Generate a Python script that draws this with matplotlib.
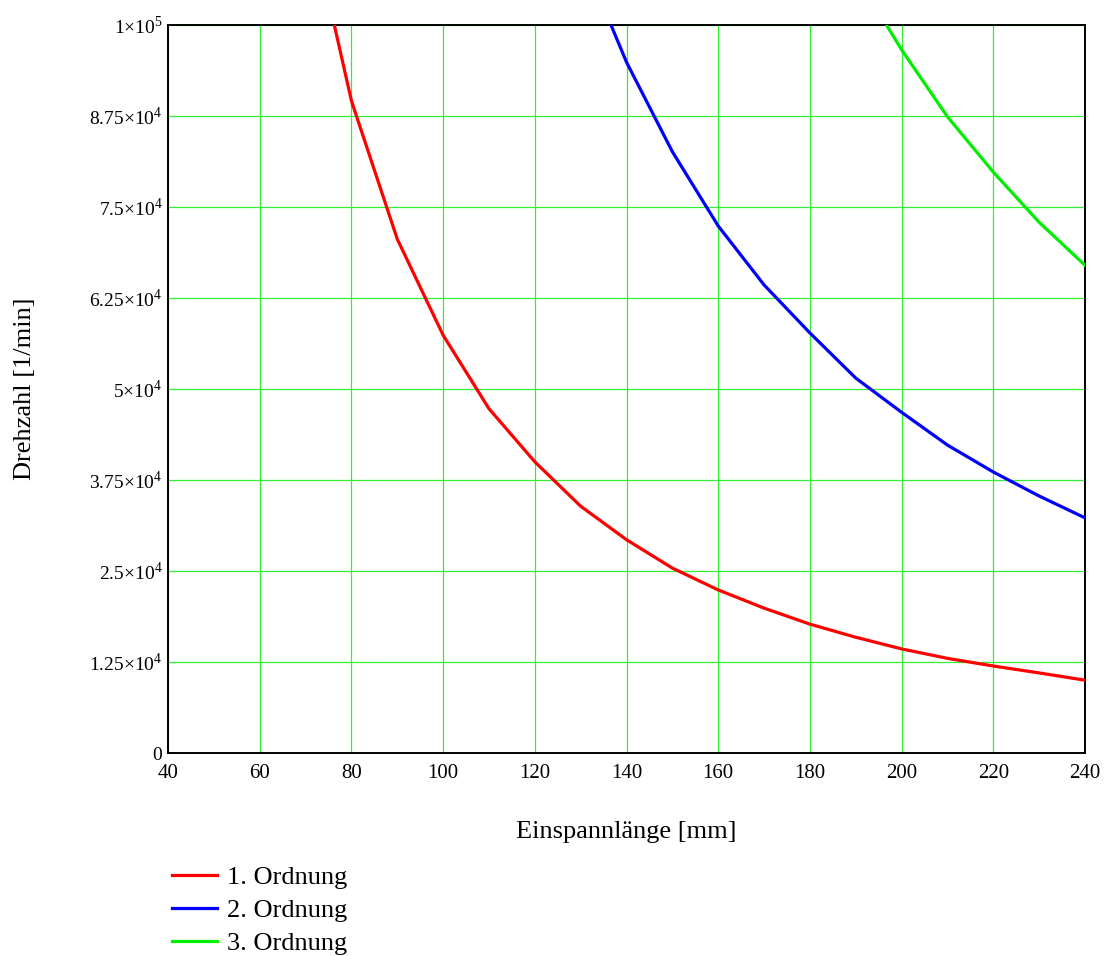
import matplotlib
matplotlib.use("Agg")
import matplotlib.pyplot as plt

plt.rcParams['font.family'] = ['Liberation Serif', 'DejaVu Serif']
plt.rcParams['mathtext.fontset'] = 'custom'
plt.rcParams['mathtext.rm'] = 'Liberation Serif'

# Einspannlänge [mm] und Drehzahl [1/min]
laenge_1 = [70, 80, 90, 100, 110, 120, 130, 140, 150, 160, 170, 180, 190, 200, 210, 220, 230, 240]
drehzahl_1 = [117500, 89600, 70600, 57400, 47300, 40000, 33900, 29300, 25400, 22400,
              19900, 17700, 15900, 14300, 13000, 11950, 11000, 10000]

laenge_2 = [130, 140, 150, 160, 170, 180, 190, 200, 210, 220, 230, 240]
drehzahl_2 = [110000, 94900, 82600, 72400, 64300, 57700, 51500, 46800, 42300, 38600, 35300, 32300]

laenge_3 = [190, 200, 210, 220, 230, 240]
drehzahl_3 = [106900, 96600, 87400, 79800, 72900, 67000]

x_ticks = [40, 60, 80, 100, 120, 140, 160, 180, 200, 220, 240]
y_ticks = [0, 12500, 25000, 37500, 50000, 62500, 75000, 87500, 100000]
y_labels = ['0', r'$1.25{\times}10^{4}$', r'$2.5{\times}10^{4}$', r'$3.75{\times}10^{4}$',
            r'$5{\times}10^{4}$', r'$6.25{\times}10^{4}$', r'$7.5{\times}10^{4}$',
            r'$8.75{\times}10^{4}$', r'$1{\times}10^{5}$']

fig = plt.figure(figsize=(11.09, 9.56), dpi=100)
ax = fig.add_axes([168 / 1109, 1 - 753 / 956, (1085 - 168) / 1109, (753 - 25) / 956])

ax.plot(laenge_1, drehzahl_1, color='#ff0000', lw=2.3, label='1. Ordnung', zorder=3)
ax.plot(laenge_2, drehzahl_2, color='#0000ff', lw=2.3, label='2. Ordnung', zorder=3)
ax.plot(laenge_3, drehzahl_3, color='#00ee00', lw=2.3, label='3. Ordnung', zorder=3)

ax.set_xlim(40, 240)
ax.set_ylim(0, 100000)
ax.set_xticks(x_ticks)
ax.set_xticklabels([str(v) for v in x_ticks])
ax.set_yticks(y_ticks)
ax.set_yticklabels(y_labels)
ax.tick_params(length=0)
ax.tick_params(axis='y', pad=4, labelsize=14)
ax.tick_params(axis='x', pad=8, labelsize=15)
ax.grid(True, color='#33ee33', lw=0.9)
ax.set_axisbelow(True)
for s in ax.spines.values():
    s.set_linewidth(1.4)
    s.set_color('black')

ax.set_xlabel('Einspannlänge [mm]', fontsize=19, labelpad=27)
ax.set_ylabel('Drehzahl [1/min]', fontsize=19, labelpad=38)

fig.legend(loc='upper left', bbox_to_anchor=(172 / 1109, 1 - 866 / 956), frameon=False,
           fontsize=19, handlelength=1.7, handletextpad=0.4, labelspacing=0.36,
           borderpad=0, borderaxespad=0)

fig.savefig('out.png', dpi=100)
